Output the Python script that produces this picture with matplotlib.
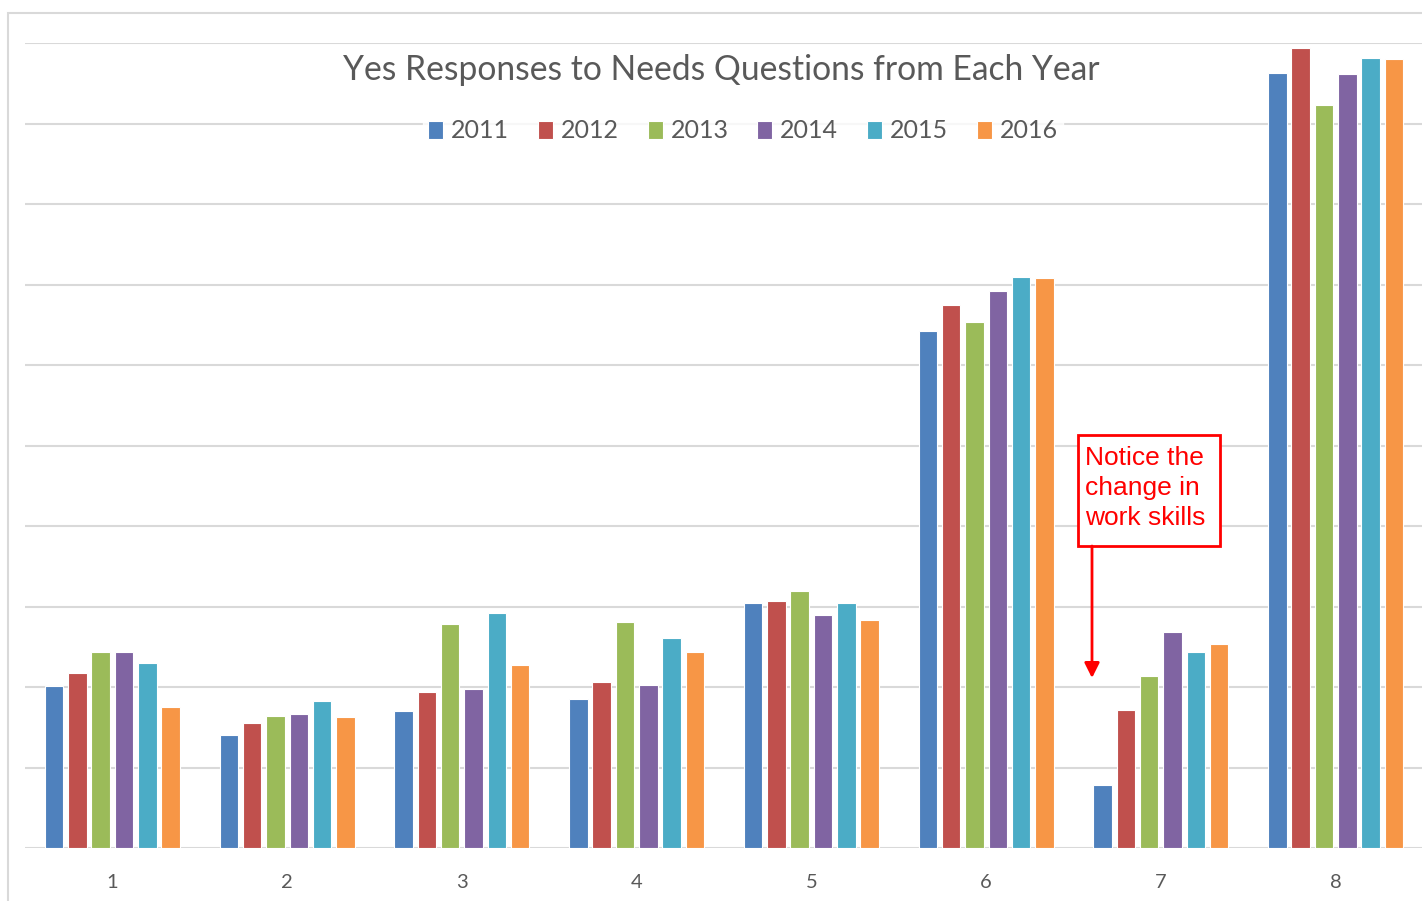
import matplotlib
matplotlib.use("Agg")
import matplotlib.pyplot as plt
from matplotlib.patches import Rectangle
import numpy as np

categories = ["1", "2", "3", "4", "5", "6", "7", "8"]
years = ["2011", "2012", "2013", "2014", "2015", "2016"]
colors = ["#4F81BD", "#C0504D", "#9BBB59", "#8064A2", "#4BACC6", "#F79646"]

v2011 = [2.01, 1.41, 1.70, 1.85, 3.04, 6.42, 0.78, 9.63]
v2012 = [2.18, 1.55, 1.94, 2.06, 3.07, 6.75, 1.72, 9.94]
v2013 = [2.44, 1.64, 2.78, 2.81, 3.19, 6.54, 2.14, 9.23]
v2014 = [2.43, 1.67, 1.98, 2.03, 2.90, 6.92, 2.68, 9.62]
v2015 = [2.30, 1.83, 2.92, 2.61, 3.05, 7.10, 2.43, 9.82]
v2016 = [1.75, 1.63, 2.27, 2.44, 2.83, 7.08, 2.53, 9.80]
series = [v2011, v2012, v2013, v2014, v2015, v2016]

W, H = 1422, 901
fig = plt.figure(figsize=(W / 100, H / 100), dpi=100)
fig.patch.set_facecolor("white")

# outer chart frame
fig.patches.append(Rectangle((8 / W, -0.1), 1.2, 1 - 13 / H + 0.1, transform=fig.transFigure,
                             fill=False, edgecolor="#d9d9d9", linewidth=1.5))

ax = fig.add_axes([25 / W, 53 / H, 1398 / W, 804.7 / H])
ax.set_facecolor("none")
x = np.arange(len(categories))
slot = 0.1333
width = 0.106
for i, (vals, c, yr) in enumerate(zip(series, colors, years)):
    ax.bar(x + (i - 2.5) * slot, vals, width=width, color=c, edgecolor="white",
           linewidth=0.8, label=yr, zorder=3)

ax.set_xlim(-0.5, 7.5)
ax.set_ylim(0, 10)
ax.set_yticks(np.arange(0, 11, 1))
ax.set_yticklabels([])
ax.tick_params(axis="y", length=0)
ax.grid(axis="y", color="#d9d9d9", linewidth=1.5, zorder=0)
ax.set_axisbelow(True)
for s in ["top", "right", "left", "bottom"]:
    ax.spines[s].set_visible(False)
ax.set_xticks(x)
ax.set_xticklabels(categories, fontsize=14.5, color="#595959", family="Lato")
ax.tick_params(axis="x", length=0, pad=19)

fig.text(721 / W, 1 - 69.5 / H, "Yes Responses to Needs Questions from Each Year",
         ha="center", va="center", fontsize=24.2, color="#595959", family="Lato")

leg = fig.legend(loc="center", bbox_to_anchor=(743 / W, 1 - 131 / H), ncol=6,
                 frameon=True, fontsize=18, handlelength=0.6, handleheight=0.75,
                 handletextpad=0.32, columnspacing=1.15, borderpad=0.2)
leg.get_frame().set_facecolor("white")
leg.get_frame().set_edgecolor("white")
for t in leg.get_texts():
    t.set_color("#595959")
    t.set_family("Lato")

# annotation
def px2data(px, py):
    return (px - 25) / 174.75 - 0.5, (848 - py) / 80.47

bx0, by0 = px2data(1078, 546)
bx1, by1 = px2data(1220, 435)
ax.add_patch(Rectangle((bx0, by0), bx1 - bx0, by1 - by0, fill=True, facecolor="white",
                       edgecolor="#FF0000", linewidth=2, zorder=5, clip_on=False))
tx, ty = px2data(1085, 446)
ax.text(tx, ty, "Notice the\nchange in\nwork skills", color="#FF0000", fontsize=19,
        family="Liberation Sans", ha="left", va="top", linespacing=1.31, zorder=6)
ax0, ay0 = px2data(1092, 546)
ax1, ay1 = px2data(1092, 678)
ax.annotate("", xy=(ax1, ay1), xytext=(ax0, ay0),
            arrowprops=dict(arrowstyle="-|>,head_length=0.9,head_width=0.45",
                            color="#FF0000", lw=2, shrinkA=0, shrinkB=0), zorder=6)

fig.savefig("out.png", dpi=100, facecolor="white")
